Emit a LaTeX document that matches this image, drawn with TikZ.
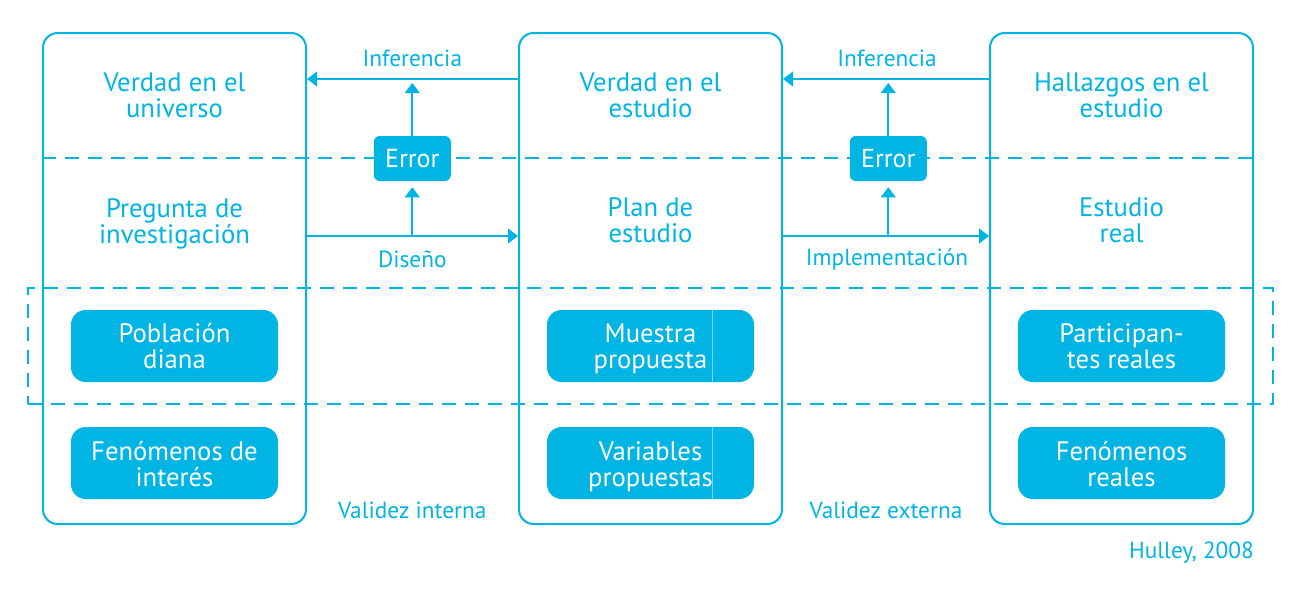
\documentclass[tikz,border=0pt]{standalone}
\usepackage{fontspec}
\setmainfont{PT Sans}
\usetikzlibrary{arrows.meta}
\definecolor{cy}{RGB}{0,180,228}
\definecolor{cyl}{RGB}{120,212,240}
\begin{document}
\begin{tikzpicture}[x=0.75pt,y=-0.75pt,
  col/.style={draw=cy,line width=1.5pt,rounded corners=11pt,minimum width=197.25pt,minimum height=368.25pt,inner sep=0pt},
  fbox/.style={fill=cy,rounded corners=11pt,minimum width=155.25pt,minimum height=54pt,inner sep=0pt,text=white,font=\fontsize{20}{19.5}\selectfont},
  ftxt/.style={text=white,align=center,inner sep=0pt,font=\fontsize{20}{19.5}\selectfont},
  ebox/.style={fill=cy,rounded corners=4.5pt,minimum width=57.75pt,minimum height=33.75pt,inner sep=0pt,text=white,font=\fontsize{19.5}{19.5}\selectfont},
  ttl/.style={text=cy,align=center,inner sep=0pt,font=\fontsize{20}{19.5}\selectfont},
  lbl/.style={text=cy,inner sep=0pt,font=\fontsize{17.5}{19}\selectfont},
  dsh/.style={draw=cy,line width=1.5pt,dash pattern=on 10.5pt off 6.75pt},
  arr/.style={draw=cy,line width=1.5pt,-{Triangle[length=7.5pt,width=11pt]}}]
\fill[white] (0,0) rectangle (1300,589);
\useasboundingbox (0,0) rectangle (1300,589);
% dashed band
\node[dsh,minimum width=933.75pt,minimum height=87pt,inner sep=0pt] (band) at (650.5,346) {};
% columns
\node[col] (colL) at (174.5,278.5) {};
\node[col] (colM) at (650.5,278.5) {};
\node[col] (colR) at (1121.5,278.5) {};
% dashed horizontal
\draw[dsh] (colL.west |- 0,158) -- (colR.east |- 0,158);
% titles
\node[ttl] (t1) at (174.5,95) {Verdad en el\\universo};
\node[ttl] (t2) at (650.5,95) {Verdad en el\\estudio};
\node[ttl] (t3) at (1121.5,95) {Hallazgos en el\\estudio};
\node[ttl] (p1) at (174.5,223.5) {Pregunta de\\investigación};
\node[ttl] (p2) at (650.5,220) {Plan de\\estudio};
\node[ttl] (p3) at (1121.5,220) {Estudio\\real};
% filled boxes
\node[fbox] (b1) at (174.5,346) {};
\node[fbox] (b2) at (650.5,346) {};
\node[fbox] (b3) at (1121.5,346) {};
\node[fbox] (c1) at (174.5,463) {};
\node[fbox] (c2) at (650.5,463) {};
\node[fbox] (c3) at (1121.5,463) {};
\node[ftxt] (b1t) at (174.5,346.5) {Población\\diana};
\node[ftxt] (b2t) at (650.5,349) {Muestra\\propuesta};
\node[ftxt] (b3t) at (1121.5,346.5) {Participan-\\tes reales};
\node[ftxt] (c1t) at (174.5,464) {Fenómenos de\\interés};
\node[ftxt] (c2t) at (650.5,466.5) {Variables\\propuestas};
\node[ftxt] (c3t) at (1121.5,464) {Fenómenos\\reales};
\draw[cyl,line width=0.6pt] (712.7,0 |- b2.north) -- (712.7,0 |- b2.south);
\draw[cyl,line width=0.6pt] (712.7,0 |- c2.north) -- (712.7,0 |- c2.south);
% error boxes
\node[ebox] (e1) at (412.3,158.5) {Error};
\node[ebox] (e2) at (888.3,158.5) {Error};
% arrows
\coordinate (i1) at (412.3,79);
\coordinate (d1) at (412.3,236);
\coordinate (i2) at (888.3,79);
\coordinate (d2) at (888.3,236);
\draw[arr] (colM.west |- i1) -- (colL.east |- i1);
\draw[arr] (colL.east |- d1) -- (colM.west |- d1);
\draw[arr] (colR.west |- i2) -- (colM.east |- i2);
\draw[arr] (colM.east |- d2) -- (colR.west |- d2);
\draw[arr] (e1.north) -- (412.3,83);
\draw[arr] (d1) -- ([yshift=-4.5pt]e1.south);
\draw[arr] (e2.north) -- (888.3,83);
\draw[arr] (d2) -- ([yshift=-4.5pt]e2.south);
% labels
\node[lbl] (l1) at (412.3,58) {Inferencia};
\node[lbl] (l2) at (412.3,259) {Diseño};
\node[lbl] (l3) at (887,58) {Inferencia};
\node[lbl] (l4) at (887,259) {Implementación};
\node[lbl] (v1) at (412.3,510) {Validez interna};
\node[lbl] (v2) at (886,510) {Validez externa};
\node[lbl] (h) at (1191.5,553) {Hulley, 2008};
\end{tikzpicture}
\end{document}
